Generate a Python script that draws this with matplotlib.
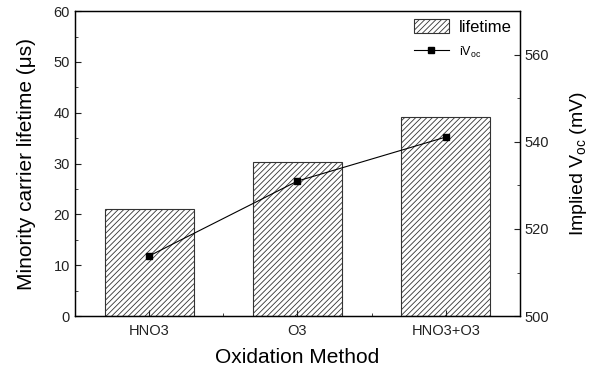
import matplotlib
matplotlib.use('Agg')
import matplotlib.pyplot as plt
from matplotlib.ticker import MultipleLocator

plt.rcParams['font.family'] = ['Liberation Sans', 'DejaVu Sans']
plt.rcParams['mathtext.default'] = 'regular'
plt.rcParams['hatch.color'] = '#555555'
plt.rcParams['hatch.linewidth'] = 0.6

methods = ['HNO3', 'O3', 'HNO3+O3']
lifetime = [21.0, 30.3, 39.2]
ivoc = [513.8, 531.0, 541.1]

x = [1, 2, 3]

fig = plt.figure(figsize=(5.95, 3.71), dpi=100)
ax = fig.add_axes([0.126, 0.148, 0.748, 0.822])
bars = ax.bar(x, lifetime, width=0.6, color='white', edgecolor='#333333',
              linewidth=0.8, hatch='//////', label='lifetime')
ax.set_xlim(0.5, 3.5)
ax.set_ylim(0, 60)
ax.set_xticks(x)
ax.set_xticklabels(methods)
ax.xaxis.set_minor_locator(MultipleLocator(0.5))
ax.yaxis.set_major_locator(MultipleLocator(10))
ax.yaxis.set_minor_locator(MultipleLocator(5))
ax.tick_params(which='both', direction='in', labelsize=10.5, colors='#222222')
ax.tick_params(which='major', length=4)
ax.tick_params(which='minor', length=2)
ax.tick_params(axis='x', pad=6)
ax.set_ylabel('Minority carrier lifetime (μs)', fontsize=15, labelpad=13)
ax.set_xlabel('Oxidation Method', fontsize=15, labelpad=7)

ax2 = ax.twinx()
line, = ax2.plot(x, ivoc, color='black', linewidth=0.8, marker='s',
                 markersize=4, label='iV$_{oc}$')
ax2.set_ylim(500, 570)
ax2.yaxis.set_major_locator(MultipleLocator(20))
ax2.yaxis.set_minor_locator(MultipleLocator(10))
ax2.tick_params(which='both', direction='in', labelsize=10.5, colors='#222222')
ax2.tick_params(which='major', length=4)
ax2.tick_params(which='minor', length=2)
ax2.set_ylabel('Implied V$_{oc}$ (mV)', fontsize=14, labelpad=13)

for a in (ax, ax2):
    for s in a.spines.values():
        s.set_linewidth(0.9)

leg = ax2.legend([bars, line], ['lifetime', 'iV$_{oc}$'], loc='upper right',
                 frameon=False, fontsize=12, handlelength=2.1, handleheight=0.9,
                 handletextpad=0.6, labelspacing=0.5, borderaxespad=0.1)
leg.get_texts()[1].set_fontsize(9)

fig.savefig('out.png', dpi=100)
